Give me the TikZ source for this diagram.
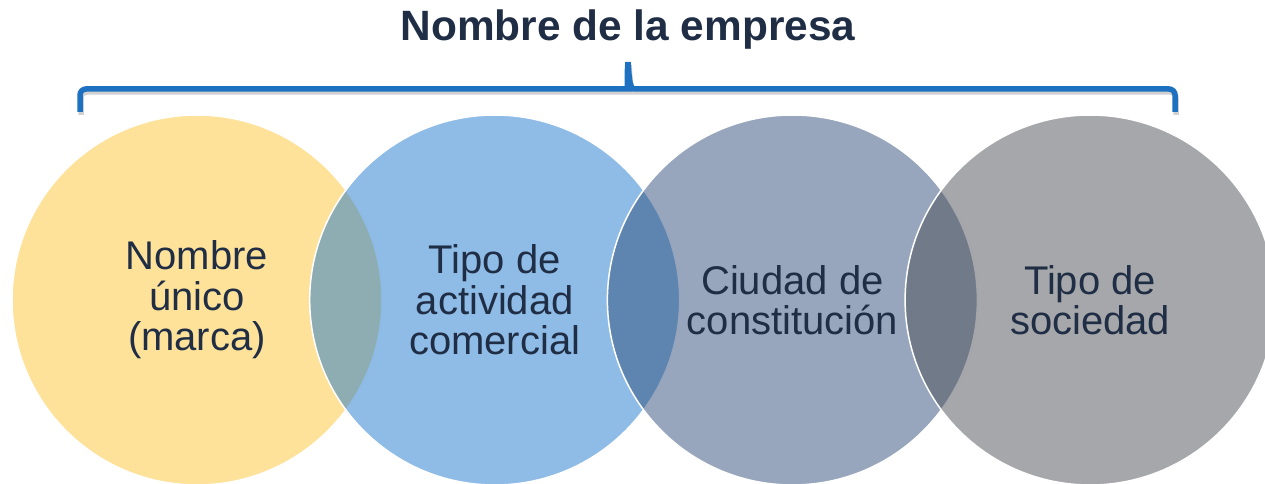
\documentclass[tikz,border=0pt]{standalone}
\usepackage{fontspec}
\setmainfont{Liberation Sans}
\definecolor{navyText}{RGB}{31,45,69}
\definecolor{braceBlue}{RGB}{30,112,192}
\definecolor{goldFill}{RGB}{255,197,51}
\definecolor{skyFill}{RGB}{31,121,205}
\definecolor{slateFill}{RGB}{47,77,123}
\definecolor{greyFill}{RGB}{77,79,85}
\tikzset{
    bubble/.style={circle, minimum size=370pt, inner sep=0pt, draw=white, line width=1.5pt,
        fill opacity=0.5, text opacity=1, text=navyText, align=center,
        font=\fontsize{40}{40.5}\selectfont},
    title/.style={text=navyText, font=\fontsize{42.4}{48}\selectfont\bfseries, inner sep=0pt},
}
\begin{document}
\begin{tikzpicture}[x=1pt,y=-1pt]
    \def\circRadius{185}
    \def\circStep{297.7}
    \def\circLeft{197}
    \def\circMid{300}
    \def\braceTop{89}
    \def\braceFoot{112}
    \useasboundingbox (0,0) rectangle (1265,484);

    % circles, left to right
    \foreach \name/\col/\txt [count=\i from 0] in {
            marca/goldFill/{Nombre\\único\\(marca)},
            actividad/skyFill/{Tipo de\\actividad\\comercial},
            ciudad/slateFill/{Ciudad de\\constitución},
            sociedad/greyFill/{Tipo de\\sociedad}} {
        \node[bubble, fill=\col] (\name) at (\circLeft+\i*\circStep,\circMid) {\txt};
    }

    % brace over all four
    \def\bracePath{(80,\braceFoot) [rounded corners=6pt] -- (80,\braceTop) -- (622,\braceTop) [sharp corners]
        .. controls (627,\braceTop) and (627,72) .. (628,62)
        .. controls (629,72) and (629,\braceTop) .. (634,\braceTop)
        [rounded corners=6pt] -- (1175,\braceTop) -- (1175,\braceFoot)}
    \draw[line width=5.5pt, black, opacity=0.18, shift={(1,3)}] \bracePath;
    \draw[line width=5.5pt, braceBlue] \bracePath;

    \node[title, anchor=base] (empresa) at (628,41) {Nombre de la empresa};
\end{tikzpicture}
\end{document}
